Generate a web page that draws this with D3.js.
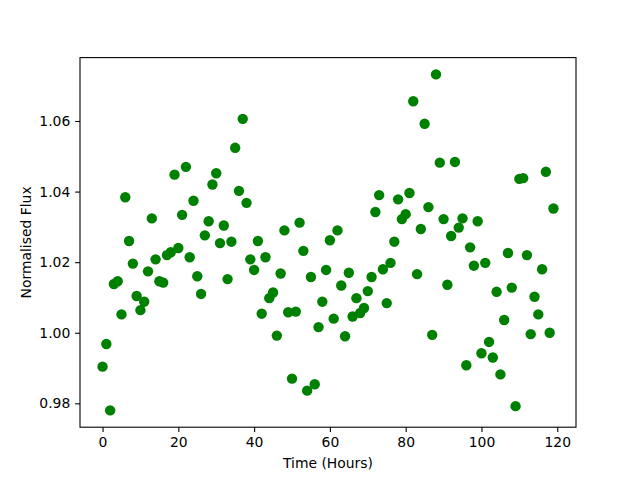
<!DOCTYPE html>
<html><head><meta charset="utf-8">
<script src="https://cdn.jsdelivr.net/npm/d3@7"></script>
<style>body{margin:0;background:#fff}svg{display:block}text{font-family:"DejaVu Sans",sans-serif}</style>
</head><body>
<svg id="c" width="640" height="480"></svg>
<script>
const hours = d3.range(0, 120);
const flux = [
0.9904,0.9968,0.9780,1.0138,1.0146,1.0052,1.0384,1.0260,1.0196,1.0104,
1.0064,1.0088,1.0174,1.0324,1.0208,1.0146,1.0142,1.0220,1.0228,1.0448,
1.0240,1.0334,1.0470,1.0214,1.0374,1.0160,1.0110,1.0276,1.0316,1.0420,
1.0452,1.0254,1.0304,1.0152,1.0258,1.0524,1.0402,1.0606,1.0368,1.0208,
1.0178,1.0260,1.0054,1.0214,1.0098,1.0114,0.9992,1.0168,1.0290,1.0058,
0.9870,1.0060,1.0312,1.0232,0.9836,1.0158,0.9854,1.0016,1.0088,1.0178,
1.0262,1.0040,1.0290,1.0134,0.9990,1.0170,1.0046,1.0098,1.0056,1.0070,
1.0118,1.0158,1.0342,1.0390,1.0180,1.0084,1.0198,1.0258,1.0378,1.0322,
1.0336,1.0396,1.0656,1.0166,1.0294,1.0592,1.0356,0.9994,1.0732,1.0482,
1.0322,1.0136,1.0274,1.0484,1.0298,1.0324,0.9908,1.0242,1.0190,1.0316,
0.9942,1.0198,0.9974,0.9930,1.0116,0.9882,1.0036,1.0226,1.0128,0.9792,
1.0436,1.0438,1.0220,0.9996,1.0102,1.0052,1.0180,1.0456,1.0000,1.0352];
const xTicks = [0,20,40,60,80,100,120];
const yTicks = [0.98,1.00,1.02,1.04,1.06];
const xLabel = "Time (Hours)";
const yLabel = "Normalised Flux";

const svg = d3.select("#c");
const L = 80, R = 576, T = 57.6, B = 427.2;
const xe = d3.extent(hours), ye = d3.extent(flux);
const xm = (xe[1]-xe[0])*0.05, ym = (ye[1]-ye[0])*0.05;
const x = d3.scaleLinear().domain([xe[0]-xm, xe[1]+xm]).range([L, R]);
const y = d3.scaleLinear().domain([ye[0]-ym, ye[1]+ym]).range([B, T]);

const fs = 13.9;
svg.append("g").selectAll("circle").data(hours).join("circle")
  .attr("cx", (d)=>x(d)).attr("cy", (d,i)=>y(flux[i])).attr("r", 5.2).attr("fill", "#008000");

const xa = svg.append("g").attr("transform", `translate(0,${B})`)
  .call(d3.axisBottom(x).tickValues(xTicks).tickSize(4.86).tickPadding(4.86).tickFormat(d3.format("d")));
const ya = svg.append("g").attr("transform", `translate(${L},0)`)
  .call(d3.axisLeft(y).tickValues(yTicks).tickSize(4.86).tickPadding(4.86).tickFormat(d3.format(".2f")));
[xa, ya].forEach(a => {
  a.select(".domain").remove();
  a.selectAll("line").attr("stroke", "#000").attr("stroke-width", 1.1);
  a.selectAll("text").attr("font-size", fs).attr("fill", "#000").attr("font-family", "DejaVu Sans");
});
svg.append("rect").attr("x", L).attr("y", T).attr("width", R-L).attr("height", B-T)
  .attr("fill", "none").attr("stroke", "#000").attr("stroke-width", 1.1);

svg.append("text").attr("x", (L+R)/2).attr("y", 468).attr("text-anchor", "middle")
  .attr("font-size", fs).text(xLabel);
svg.append("text").attr("transform", `translate(31,${(T+B)/2}) rotate(-90)`).attr("text-anchor", "middle")
  .attr("font-size", fs).text(yLabel);
</script>
</body></html>
